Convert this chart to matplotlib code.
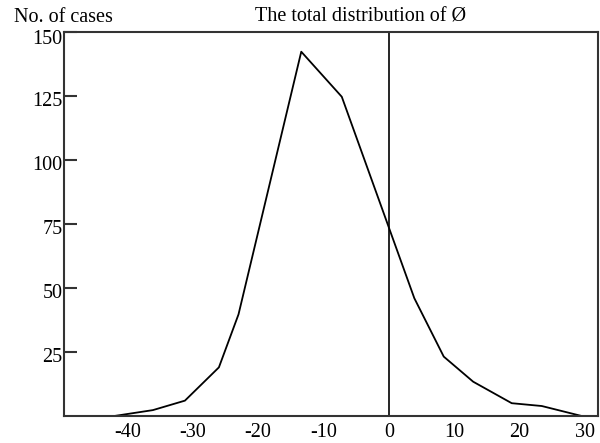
import matplotlib
matplotlib.use("Agg")
import matplotlib.pyplot as plt
import matplotlib.transforms as mtransforms

# data
phi = [-42.0, -36.1, -31.2, -26.0, -23.0, -13.4, -7.2, 3.9, 8.4, 12.9, 18.8, 23.4, 29.5]
cases = [0.0, 2.3, 6.0, 19.0, 39.7, 142.3, 124.7, 46.0, 23.2, 13.4, 5.0, 3.9, 0.0]
xticks = [-40, -30, -20, -10, 0, 10, 20, 30]
yticks = [25, 50, 75, 100, 125, 150]

plt.rcParams['font.family'] = ['Liberation Serif', 'DejaVu Serif']

fig = plt.figure(figsize=(6.0, 4.43), dpi=100)
ax = fig.add_axes([64/600, 1-416/443, (598-64)/600, (416-32)/443])

ax.plot(phi, cases, color='black', lw=1.3)
ax.axvline(0, color='black', lw=1.2)

ax.set_xlim(-49.7, 32.0)
ax.set_ylim(0, 150)

for s in ax.spines.values():
    s.set_color('#333333')
    s.set_linewidth(1.5)

ax.set_yticks(yticks)
ax.set_yticklabels([str(v) for v in yticks])
ax.tick_params(axis='y', direction='in', length=9.5, width=1.5, color='#333333',
               labelsize=14.5, pad=1)
ax.set_xticks(xticks)
ax.set_xticklabels([str(v) for v in xticks])
ax.tick_params(axis='x', length=0, labelsize=14.5, pad=5)

for lab in ax.get_yticklabels():
    dy = -5.5 if lab.get_text() == '150' else -2.5
    lab.set_transform(lab.get_transform() +
                      mtransforms.ScaledTranslation(0, dy / 100, fig.dpi_scale_trans))

fig.text(14/600, 1-22/443, 'No. of cases', fontsize=14.5, ha='left', va='baseline')
fig.text(361/600, 1-22/443, 'The total distribution of Ø', fontsize=14.5, ha='center', va='baseline')

fig.savefig('out.png', dpi=100)
